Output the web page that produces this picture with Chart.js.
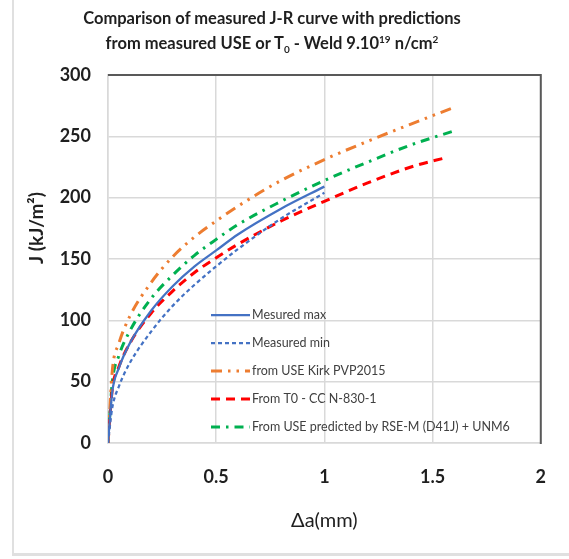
<!DOCTYPE html>
<html>
<head>
<meta charset="utf-8">
<script src="https://cdn.jsdelivr.net/npm/chart.js@4.4.0/dist/chart.umd.min.js"></script>
<style>
  html, body { margin: 0; padding: 0; background: #fff; }
  #wrap { position: relative; width: 569px; height: 559px; overflow: hidden; }
  #frame { position: absolute; left: 12px; top: -3px; width: 570px; height: 556px; border-left: 2px solid #e0e0e0; border-bottom: 3px solid #e0e0e0; }
  #title { position: absolute; left: 0; top: 6px; width: 544px; text-align: center; font: bold 16.5px Lato, sans-serif; color: #1f1f1f; line-height: 25px; }
  #title sub, #title sup { font-size: 10px; line-height: 0; }
  canvas { position: absolute; left: 0; top: 0; }
</style>
</head>
<body>
<div id="wrap">
  <div id="frame"></div>
  <canvas id="jrChart" width="569" height="559"></canvas>
  <div id="title">Comparison of measured J-R curve with predictions<br>from measured USE or T<sub>0</sub> - Weld 9.10<sup>19</sup> n/cm<sup>2</sup></div>
</div>
<script>
// Delta a (mm) for each curve
const aMeasured = [0, 0.02, 0.05, 0.1, 0.2, 0.3, 0.4, 0.5, 0.6, 0.8, 1.0];
const aKirk = [0, 0.02, 0.05, 0.1, 0.2, 0.3, 0.4, 0.5, 0.6, 0.8, 1.0, 1.2, 1.4, 1.59];
const aT0 = [0, 0.02, 0.05, 0.1, 0.2, 0.3, 0.4, 0.5, 0.6, 0.8, 1.0, 1.2, 1.4, 1.57];
const aRse = [0, 0.02, 0.05, 0.1, 0.2, 0.3, 0.4, 0.5, 0.6, 0.8, 1.0, 1.2, 1.4, 1.61];

// J (kJ/m2)
const jMesuredMax = [0, 42, 61, 81, 108, 128, 144, 157, 170, 191, 209];
const jMeasuredMin = [0, 29, 46, 65, 91, 112, 129, 144, 158, 183, 204];
const jKirk = [0, 59, 81, 103, 131, 152, 168, 181, 193, 214, 231, 246, 260, 273];
const jT0 = [0, 44, 62, 81, 106, 124, 139, 151, 162, 181, 197, 212, 225, 233];
const jRse = [0, 50, 71, 91, 118, 137, 153, 166, 178, 197, 214, 229, 243, 255];

const xTicks = [0, 0.5, 1, 1.5, 2];
const yTicks = [0, 50, 100, 150, 200, 250, 300];

function toPoints(xs, ys) {
    return xs.map((x, i) => ({ x: x, y: ys[i] }));
}

const FONT = 'Lato, sans-serif';

// leyenda dentro del area de trazado
const legendInside = {
    id: 'legendInside',
    afterDatasetsDraw(chart) {
        const ctx = chart.ctx;
        chart.data.datasets.forEach((ds, i) => {
            const y = 315 + i * 28;
            ctx.save();
            ctx.strokeStyle = ds.borderColor;
            ctx.lineWidth = ds.borderWidth;
            ctx.setLineDash(ds.borderDash || []);
            ctx.beginPath();
            ctx.moveTo(211, y);
            ctx.lineTo(250, y);
            ctx.stroke();
            ctx.setLineDash([]);
            ctx.fillStyle = '#404040';
            ctx.font = '12.5px ' + FONT;
            ctx.textBaseline = 'middle';
            ctx.fillText(ds.label, 252, y);
            ctx.restore();
        });
    }
};

// borde superior y derecho oscuro + titulo del eje Y
const extras = {
    id: 'extras',
    afterDraw(chart) {
        const ctx = chart.ctx;
        const a = chart.chartArea;
        ctx.save();
        ctx.strokeStyle = '#595959';
        ctx.lineWidth = 2;
        ctx.beginPath();
        ctx.moveTo(a.left, a.top);
        ctx.lineTo(a.right, a.top);
        ctx.lineTo(a.right, a.bottom + 1);
        ctx.stroke();
        ctx.translate(37, 228);
        ctx.rotate(-Math.PI / 2);
        ctx.fillStyle = '#1f1f1f';
        ctx.font = 'bold 19px ' + FONT;
        ctx.textAlign = 'center';
        ctx.textBaseline = 'middle';
        ctx.fillText('J (kJ/m\u00b2)', 0, 0);
        ctx.restore();
    }
};

const ctxJR = document.getElementById('jrChart').getContext('2d');
const jrChart = new Chart(ctxJR, {
    type: 'line',
    data: {
        datasets: [{
            label: 'Mesured max',
            data: toPoints(aMeasured, jMesuredMax),
            borderColor: '#4472C4',
            borderWidth: 2.25
        }, {
            label: 'Measured min',
            data: toPoints(aMeasured, jMeasuredMin),
            borderColor: '#4472C4',
            borderWidth: 2.25,
            borderDash: [4, 3]
        }, {
            label: 'from USE Kirk PVP2015',
            data: toPoints(aKirk, jKirk),
            borderColor: '#ED7D31',
            borderWidth: 3,
            borderDash: [11, 6, 2.5, 6, 2.5, 6]
        }, {
            label: 'From T0 - CC N-830-1',
            data: toPoints(aT0, jT0),
            borderColor: '#FF0000',
            borderWidth: 3,
            borderDash: [9, 6]
        }, {
            label: 'From USE predicted by RSE-M (D41J) + UNM6',
            data: toPoints(aRse, jRse),
            borderColor: '#00B050',
            borderWidth: 3,
            borderDash: [9, 6, 2.5, 6]
        }]
    },
    options: {
        responsive: false,
        animation: false,
        parsing: false,
        cubicInterpolationMode: 'monotone',
        elements: { point: { radius: 0 } },
        layout: { padding: { top: 75, right: 22, left: 0, bottom: 16 } },
        plugins: {
            legend: { display: false },
            tooltip: { enabled: false }
        },
        scales: {
            x: {
                type: 'linear',
                min: 0,
                max: 2,
                afterFit: (s) => { s.height = 100; },
                afterBuildTicks: (s) => { s.ticks = xTicks.map(v => ({ value: v })); },
                grid: { color: '#d9d9d9', lineWidth: 1.5, drawTicks: false },
                border: { color: '#d9d9d9', width: 1.5 },
                ticks: {
                    padding: 23,
                    color: '#1f1f1f',
                    font: { family: FONT, size: 18, weight: 'bold' },
                    callback: (v) => String(v)
                },
                title: {
                    display: true,
                    text: '\u0394a(mm)',
                    color: '#1f1f1f',
                    font: { family: FONT, size: 20 },
                    padding: { top: 0, bottom: 10 }
                }
            },
            y: {
                min: 0,
                max: 300,
                afterFit: (s) => { s.width = 108; },
                afterBuildTicks: (s) => { s.ticks = yTicks.map(v => ({ value: v })); },
                grid: { color: '#d9d9d9', lineWidth: 1.5, drawTicks: false },
                border: { color: '#d9d9d9', width: 1.5 },
                ticks: {
                    padding: 17,
                    color: '#1f1f1f',
                    font: { family: FONT, size: 18, weight: 'bold' }
                }
            }
        }
    },
    plugins: [legendInside, extras]
});
</script>
</body>
</html>
